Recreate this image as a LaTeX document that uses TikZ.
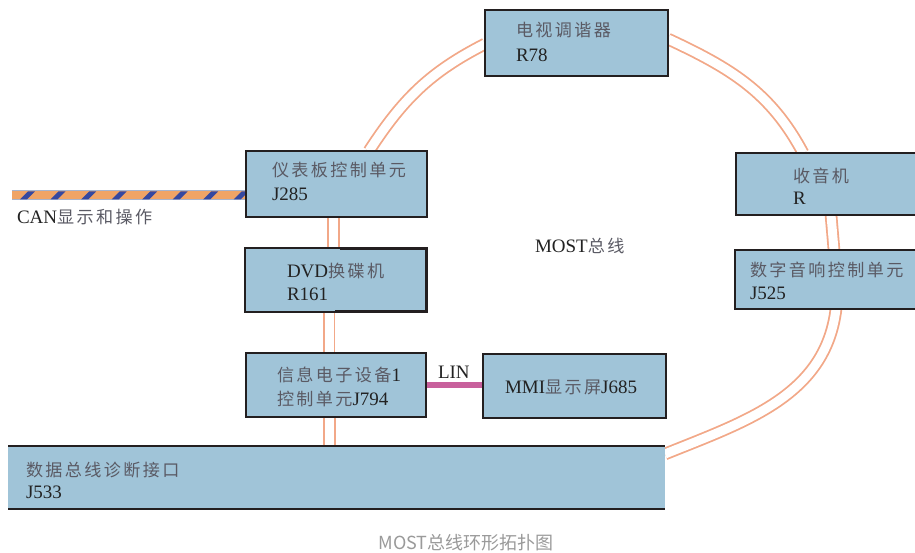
\documentclass[tikz,border=0pt]{standalone}
\usepackage{fontspec}
\setmainfont{Liberation Serif}
\newfontfamily\cjk[Scale=0.9,LetterSpace=14]{Noto Sans CJK SC}
\newfontfamily\capfont{Noto Sans CJK SC}
\usetikzlibrary{calc}
\definecolor{boxfill}{HTML}{A0C4D8}
\definecolor{boxline}{HTML}{231F20}
\definecolor{wirec}{HTML}{F2A888}
\definecolor{linc}{HTML}{C8609C}
\definecolor{canorange}{HTML}{F0A466}
\definecolor{canblue}{HTML}{3548A0}
\definecolor{canedge}{HTML}{A8B4CC}
\definecolor{cjkgray}{HTML}{5A5A64}
\definecolor{latc}{HTML}{222222}
\definecolor{capc}{HTML}{9A9A9A}
\newcommand\zh[1]{{\cjk\color{cjkgray}#1}}
\begin{document}
\begin{tikzpicture}[x=1pt,y=-1pt,
 box/.style={rectangle, anchor=north west, inner sep=0, outer sep=0},
 boxdraw/.style={draw=boxline, fill=boxfill, line width=2},
 wire/.style={draw=wirec, line width=1.8, double=white, double distance=9},
 lbl/.style={anchor=base west, align=left, inner sep=0, outer sep=0, text=latc, font=\fontsize{19}{23.5}\selectfont},
 capt/.style={anchor=base, inner sep=0, text=capc, font=\capfont\fontsize{18}{20}\selectfont},
]
\useasboundingbox[fill=white] (0,0) rectangle (915,553);
\begin{scope}
\clip (0,0) rectangle (915,553);
% box frames (named nodes)
\node[box, minimum width=183, minimum height=66] (r78) at (485,10) {};
\node[box, minimum width=181, minimum height=66] (j285) at (246,151) {};
\node[box, minimum width=190, minimum height=62] (radio) at (736,153) {};
\node[box, minimum width=190, minimum height=59] (j525) at (735,250) {};
\node[box, minimum width=182, minimum height=64] (dvd) at (245,248) {};
\node[box, minimum width=180, minimum height=64] (j794) at (246,353) {};
\node[box, minimum width=183, minimum height=64] (mmi) at (483,354) {};
\node[box, minimum width=657, minimum height=63] (j533) at (8,446) {};

% MOST ring wires
\draw[wire] ($(j285.north west)+(123,0)$) to[out=57,in=207] ($(r78.north west)+(0,34)$);
\draw[wire] ($(r78.north east)+(0,29)$) to[out=-25,in=118] ($(radio.north west)+(67,0)$);
\draw[wire] ($(radio.south west)+(95,0)$) -- ($(j525.north west)+(99,0)$);
\draw[wire] ($(j525.south west)+(101,0)$) to[out=-97,in=22] ($(j533.north east)+(0,8)$);
\draw[wire] ($(j285.south west)+(87.6,0)$) -- ($(dvd.north west)+(88.6,0)$);
\draw[wire] ($(dvd.south west)+(84,0)$) -- ($(j794.north west)+(83,0)$);
\draw[wire] ($(j794.south west)+(83.5,0)$) -- ($(j533.north west)+(321.5,0)$);

% LIN
\draw[draw=linc, line width=6] (j794.east) -- (j794.east -| mmi.west);
\node[lbl] (lin) at (438,378) {LIN};

% CAN striped line
\coordinate (canA) at (12,195.5);
\draw[draw=canedge, line width=10] (canA) -- (canA -| j285.west);
\draw[draw=canorange, line width=8] (canA) -- (canA -| j285.west);
\begin{scope}
\clip (12,191.5) rectangle (246,199.5);
\foreach \x in {20,50.5,...,260} \fill[canblue] (\x,199.5) -- (\x+7,199.5) -- (\x+15,191.5) -- (\x+8,191.5) -- cycle;
\end{scope}
\node[lbl] (canlbl) at (17,224) {CAN\zh{显示和操作}};

% boxes drawn
\draw[boxdraw] (r78.north west) rectangle (r78.south east);
\draw[boxdraw] (j285.north west) rectangle (j285.south east);
\draw[boxdraw] (radio.north west) rectangle (radio.south east);
\draw[boxdraw] (j525.north west) rectangle (j525.south east);
\draw[boxdraw] (dvd.north west) rectangle (dvd.south east);
\draw[boxline, line width=3.2] ($(dvd.north west)+(95,0.4)$) -- ($(dvd.north east)+(-0.4,0.4)$) -- ($(dvd.south east)+(-0.4,-0.4)$) -- ($(dvd.south west)+(90,-0.4)$);
\draw[boxdraw] (j794.north west) rectangle (j794.south east);
\draw[boxdraw] (mmi.north west) rectangle (mmi.south east);
\fill[boxfill] (j533.north west) rectangle (j533.south east);
\draw[boxline, line width=2] (j533.north west) -- (j533.north east);
\draw[boxline, line width=2] (j533.south west) -- (j533.south east);
\end{scope}

% labels (base anchor = baseline of the last line)
\node[lbl, font=\fontsize{19}{25}\selectfont] (t78) at (516,62) {\zh{电视调谐器}\\R78};
\node[lbl, font=\fontsize{19}{24}\selectfont] (t285) at (272,201) {\zh{仪表板控制单元}\\J285};
\node[lbl, font=\fontsize{19}{22}\selectfont] (tr) at (793,205) {\zh{收音机}\\R};
\node[lbl, font=\fontsize{19}{23}\selectfont] (t525) at (750,299) {\zh{数字音响控制单元}\\J525};
\node[lbl, font=\fontsize{19}{23}\selectfont] (t161) at (287,300) {DVD\zh{换碟机}\\R161};
\node[lbl, font=\fontsize{19}{24}\selectfont] (t794) at (277,405) {\zh{信息电子设备}1\\\zh{控制单元}J794};
\node[lbl] (t685) at (505,393) {MMI\zh{显示屏}J685};
\node[lbl, font=\fontsize{19}{22}\selectfont] (t533) at (26,498) {\zh{数据总线诊断接口}\\J533};
\node[lbl] (most) at (535,253) {MOST\zh{总线}};
\node[capt] (cap) at (466,549) {MOST总线环形拓扑图};
\end{tikzpicture}
\end{document}
